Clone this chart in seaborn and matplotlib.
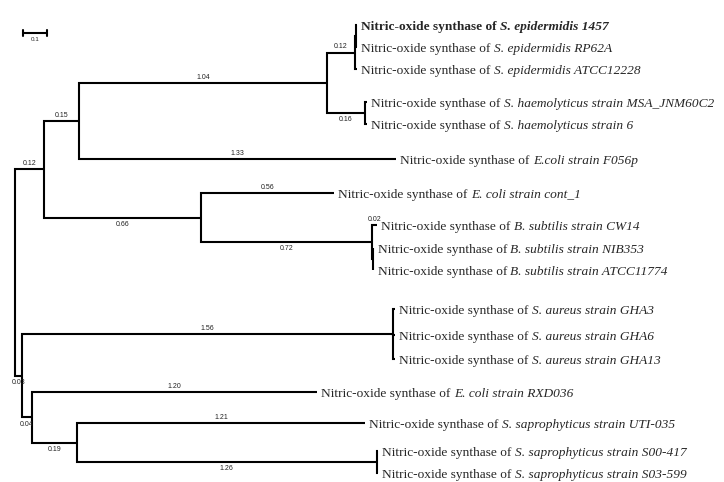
import matplotlib
matplotlib.use("Agg")

import numpy as np
import pandas as pd
import matplotlib.pyplot as plt
import seaborn as sns

# ---- tree data (display order, parents before children) ----
NODE_NAMES = [
    "root", "A", "B", "C", "epi", "epi2",
    "S. epidermidis 1457", "S. epidermidis RP62A", "S. epidermidis ATCC12228",
    "haem", "S. haemolyticus strain MSA_JNM60C2", "S. haemolyticus strain 6",
    "E.coli strain F056p",
    "D", "E. coli strain cont_1", "subt", "B. subtilis strain CW14", "subt2",
    "B. subtilis strain NIB353", "B. subtilis strain ATCC11774",
    "E", "aur", "S. aureus strain GHA3", "S. aureus strain GHA6", "S. aureus strain GHA13",
    "F", "E. coli strain RXD036", "G", "S. saprophyticus strain UTI-035",
    "H", "S. saprophyticus strain S00-417", "S. saprophyticus strain S03-599",
]
NODE_PARENTS = [
    None, "root", "A", "B", "C", "epi",
    "epi2", "epi2", "epi",
    "C", "haem", "haem",
    "B",
    "A", "D", "D", "subt", "subt",
    "subt2", "subt2",
    "root", "E", "aur", "aur", "aur",
    "E", "F", "F", "G",
    "G", "H", "H",
]
BRANCH_LENGTHS = [
    0.0, 0.12, 0.15, 1.04, 0.12, 0.004,
    0.003, 0.003, 0.007,
    0.16, 0.008, 0.008,
    1.33,
    0.66, 0.56, 0.72, 0.02, 0.004,
    0.002, 0.002,
    0.03, 1.56, 0.005, 0.005, 0.005,
    0.04, 1.20, 0.19, 1.21,
    1.26, 0.005, 0.005,
]
BRANCH_TEXT = [
    "", "0.12", "0.15", "1.04", "0.12", "",
    "", "", "",
    "0.16", "", "",
    "1.33",
    "0.66", "0.56", "0.72", "0.02", "",
    "", "",
    "0.03", "1.56", "", "", "",
    "0.04", "1.20", "0.19", "1.21",
    "1.26", "", "",
]
LEAF_PREFIX = "Nitric-oxide synthase of "
BOLD_LEAF = "S. epidermidis 1457"
SCALE_LEN = 0.1

# ---- layout ----
PX_PER_UNIT = 238
ROOT_PX = 15
LEAF_GAPS = [25, 22, 22, 33, 22, 35, 34, 32, 23, 22, 39, 26, 24, 33, 31, 28, 22]
LABEL_BELOW = {"D", "haem", "subt", "E", "F", "G", "H"}
FS = 9.6

sns.set_theme(style="white")
plt.rcParams["font.family"] = ["Liberation Serif", "DejaVu Serif"]

parent = dict(zip(NODE_NAMES, NODE_PARENTS))
blen = dict(zip(NODE_NAMES, BRANCH_LENGTHS))
btext = dict(zip(NODE_NAMES, BRANCH_TEXT))
children = {n: [] for n in NODE_NAMES}
for n, p in zip(NODE_NAMES, NODE_PARENTS):
    if p is not None:
        children[p].append(n)

# x = cumulative branch length
xpos = {}
for n in NODE_NAMES:
    xpos[n] = 0.0 if parent[n] is None else xpos[parent[n]] + blen[n]

leaves = [n for n in NODE_NAMES if not children[n]]
ypos = dict(zip(leaves, np.cumsum(LEAF_GAPS)))
for n in reversed(NODE_NAMES):
    if children[n]:
        ypos[n] = (ypos[children[n][0]] + ypos[children[n][-1]]) / 2

# elbow segments parent -> child
rows = []
for n in NODE_NAMES:
    p = parent[n]
    if p is None:
        continue
    rows += [(n, 0, xpos[p], ypos[p]), (n, 1, xpos[p], ypos[n]), (n, 2, xpos[n], ypos[n])]
seg = pd.DataFrame(rows, columns=["node", "k", "x", "y"])

fig = plt.figure(figsize=(7.24, 4.82), dpi=100)
ax = fig.add_axes([0, 0, 1, 1])
ax.set_xlim(-ROOT_PX / PX_PER_UNIT, (724 - ROOT_PX) / PX_PER_UNIT)
ax.set_ylim(482, 0)
sns.lineplot(data=seg, x="x", y="y", units="node", estimator=None, sort=False,
             color="black", linewidth=1.5, ax=ax, legend=False,
             solid_joinstyle="miter", solid_capstyle="butt")

# branch length labels
for n in NODE_NAMES:
    if not btext[n]:
        continue
    xm = xpos[parent[n]] + blen[n] / 2
    below = n in LABEL_BELOW
    ax.annotate(btext[n], xy=(xm, ypos[n]), xytext=(0, -2.5 if below else 1.5),
                textcoords="offset points", ha="center",
                va="top" if below else "bottom",
                fontsize=5, family="Liberation Sans", color="#222222")

# leaf labels: regular prefix + italic species, sharing one baseline
renderer = fig.canvas.get_renderer()
for n in leaves:
    fw = "bold" if n == BOLD_LEAF else "normal"
    t = ax.annotate(LEAF_PREFIX, xy=(xpos[n], ypos[n]), xytext=(3, -3.3),
                    textcoords="offset points", ha="left", va="baseline",
                    fontsize=FS, fontweight=fw)
    w_pt = t.get_window_extent(renderer).width * 72 / fig.dpi
    ax.annotate(n, xy=(xpos[n], ypos[n]), xytext=(3 + w_pt, -3.3),
                textcoords="offset points", ha="left", va="baseline",
                fontsize=FS, fontweight=fw, fontstyle="italic")

# scale bar
sx0 = (23 - ROOT_PX) / PX_PER_UNIT
sy = 33
ax.plot([sx0, sx0 + SCALE_LEN], [sy, sy], color="black", lw=1.5)
for xx in (sx0, sx0 + SCALE_LEN):
    ax.plot([xx, xx], [sy - 3, sy + 3], color="black", lw=1.5)
ax.text(sx0 + SCALE_LEN / 2, sy + 4, "0.1", ha="center", va="top",
        fontsize=4.5, family="Liberation Sans")

ax.axis("off")

fig.savefig("out.png", dpi=100, facecolor="white")
